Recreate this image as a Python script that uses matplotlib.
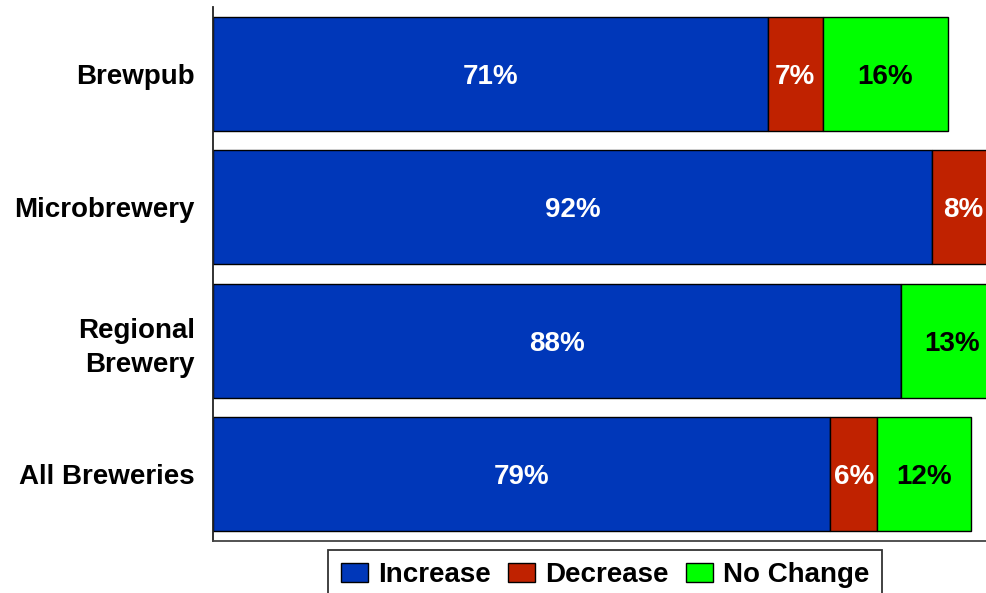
import matplotlib
matplotlib.use("Agg")
import matplotlib.pyplot as plt

categories = ["Brewpub", "Microbrewery", "Regional\nBrewery", "All Breweries"]
series_names = ["Increase", "Decrease", "No Change"]
increase = [71, 92, 88, 79]
decrease = [7, 8, 0, 6]
no_change = [16, 0, 13, 12]
colors = ["#0037B9", "#C02200", "#00FF00"]
text_colors = ["white", "white", "black"]

plt.rcParams['font.family'] = ['Liberation Sans', 'DejaVu Sans']
fig = plt.figure(figsize=(9.86, 5.93), dpi=100)
ax = fig.add_axes([213/986, 1-541/593, 1-213/986, (541-7)/593])

ypos = list(range(len(categories)))
left = [0]*len(categories)
handles = []
for vals, name, col, tc in zip([increase, decrease, no_change], series_names, colors, text_colors):
    bars = ax.barh(ypos, vals, left=left, height=0.855, color=col, edgecolor="black", linewidth=1, label=name)
    handles.append(bars)
    for y, v, l in zip(ypos, vals, left):
        if v > 0:
            ax.text(l + v/2, y, f"{v}%", ha="center", va="center_baseline", color=tc,
                    fontsize=20, fontweight="bold", clip_on=True)
    left = [a+b for a, b in zip(left, vals)]

ax.set_ylim(3.5, -0.5)
ax.set_xlim(0, 98.9)
ax.set_yticks(ypos)
ax.set_yticklabels(categories, fontsize=20, fontweight="bold", linespacing=1.4)
ax.tick_params(axis="y", length=0, pad=13)
ax.set_xticks([])
ax.spines["top"].set_visible(False)
ax.spines["right"].set_visible(False)
ax.spines["left"].set_color("#222222")
ax.spines["bottom"].set_color("#444444")
ax.spines["left"].set_linewidth(1.3)
ax.spines["bottom"].set_linewidth(1.3)

leg = fig.legend(handles=handles, labels=series_names, loc="upper left",
                 bbox_to_anchor=(328/986, 1-550/593), ncol=3, frameon=True,
                 fancybox=False, edgecolor="black", prop={"weight": "bold", "size": 20},
                 handlelength=1.0, handleheight=0.65, handletextpad=0.36, columnspacing=0.6,
                 borderpad=0.45, borderaxespad=0)
leg.get_frame().set_linewidth(1.3)

fig.savefig("out.png", dpi=100)
